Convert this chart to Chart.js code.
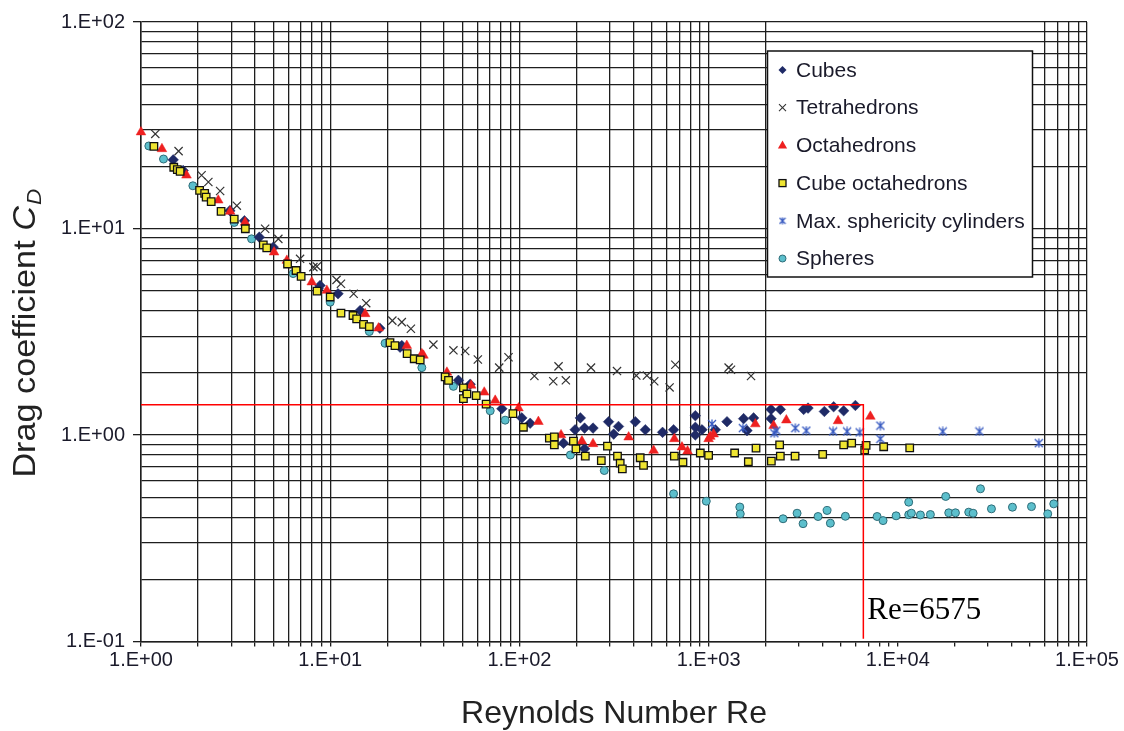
<!DOCTYPE html>
<html><head><meta charset="utf-8">
<script src="https://cdn.jsdelivr.net/npm/chart.js@4/dist/chart.umd.min.js"></script>
<style>html,body{margin:0;padding:0;background:#fff;}#wrap{position:relative;width:1124px;height:731px;}</style>
</head><body><div id="wrap"><canvas id="c" width="1124" height="731"></canvas></div>
<script>
// ---- data (Reynolds number, drag coefficient) ----
const cubesRe = [1.48,1.67,2.95,3.52,4.22,5.0,8.65,8.84,11.0,14.4,18.3,23.4,23.9,47.6,54.9,80.8,103,114,171,197,210,221,245,221,296,315,334,410,463,571,653,851,851,923,851,1085,1251,1531,1596,1729,2138,2394,2138,3180,3354,4092,4581,5175,5969];
const cubesCd = [21.5,19.1,12.2,10.9,9.08,8.12,5.11,5.30,4.83,4.01,3.29,2.66,2.71,1.84,1.76,1.34,1.21,1.14,0.913,1.06,1.21,1.08,1.08,0.857,1.16,1.01,1.10,1.16,1.06,1.03,1.06,1.24,1.09,1.06,1.0,1.06,1.16,1.20,1.05,1.21,1.33,1.33,1.20,1.33,1.35,1.30,1.37,1.31,1.39];
const tetraRe = [1.19,1.58,2.09,2.27,2.62,3.21,4.53,5.32,6.93,8.15,8.5,10.8,11.4,13.3,15.5,21.3,23.9,26.7,35.1,44.8,51.7,60.3,78.2,87.6,120,151,161,176,239,328,415,472,516,622,667,1276,1313,1676];
const tetraCd = [28.7,23.7,18.1,16.8,15.2,12.9,9.97,8.91,7.13,6.50,6.55,5.64,5.40,4.83,4.35,3.58,3.52,3.27,2.74,2.57,2.55,2.32,2.12,2.38,1.93,1.82,2.15,1.84,2.12,2.04,1.94,1.94,1.82,1.70,2.19,2.12,2.07,1.93];
const octaRe = [1.0,1.29,1.74,2.56,2.96,3.55,5.05,5.90,7.99,9.6,15.3,18.0,25.4,30.5,31.1,41.4,55.6,65.2,74.5,98.9,126,166,214,245,378,512,659,723,774,1000,1021,1063,1766,2206,2576,4834,7162];
const octaCd = [29.3,24.3,18.1,13.7,12.1,10.7,7.68,7.0,5.50,5.01,3.86,3.29,2.71,2.47,2.43,2.01,1.74,1.61,1.47,1.35,1.16,1.0,0.933,0.906,0.976,0.841,0.958,0.873,0.835,0.958,0.983,1.01,1.13,1.11,1.18,1.17,1.23];
const cuboctRe = [1.17,1.49,1.556,1.61,2.04,2.17,2.21,2.35,2.65,3.11,3.56,4.43,4.62,5.95,6.60,7.02,8.52,10.0,11.4,13.2,13.8,15.0,16.1,20.7,22.0,25.5,27.8,29.9,40.5,42.2,50.6,50.6,52.8,59.1,66.7,92.4,105,144,153,153,193,199,223,271,292,330,341,350,435,453,659,732,904,1000,1373,1622,1781,2146,2374,2394,2864,4008,5175,5705,6683,6800,8421,11560];
const cuboctCd = [25.0,19.8,19.3,18.9,15.3,14.8,14.2,13.5,12.1,11.1,9.97,8.34,8.05,6.73,6.26,5.86,4.97,4.66,3.89,3.79,3.65,3.43,3.35,2.80,2.71,2.48,2.34,2.31,1.91,1.84,1.69,1.50,1.58,1.55,1.41,1.27,1.09,0.965,0.98,0.896,0.933,0.857,0.79,0.752,0.883,0.79,0.73,0.686,0.776,0.712,0.79,0.738,0.818,0.796,0.818,0.742,0.863,0.747,0.896,0.79,0.79,0.805,0.896,0.913,0.848,0.89,0.877,0.867];
const cylRe = [1042,1517,2225,2280,2874,3285,4549,5395,6287,8091,8091,17280,27010,55590];
const cylCd = [1.13,1.08,1.02,1.05,1.08,1.05,1.04,1.04,1.03,1.11,0.958,1.04,1.04,0.913];
const sphRe = [1.10,1.315,1.88,3.11,3.84,6.37,10.0,16.1,19.5,30.5,44.8,70.1,84.1,186,281,653,972,1462,1470,2475,2935,3157,3789,4228,4401,5284,7774,8359,9795,11420,11420,11800,13170,14870,17920,18590,20170,23710,25010,27350,31260,40360,50880,62020,66730];
const sphCd = [25.1,21.7,16.1,10.7,8.91,6.05,4.40,3.17,2.78,2.12,1.72,1.31,1.18,0.80,0.673,0.519,0.478,0.448,0.415,0.393,0.418,0.372,0.403,0.431,0.374,0.404,0.403,0.385,0.406,0.473,0.411,0.418,0.41,0.412,0.504,0.42,0.42,0.423,0.418,0.549,0.439,0.447,0.45,0.415,0.464];

const seriesLabels = ['Cubes','Tetrahedrons','Octahedrons','Cube octahedrons','Max. sphericity cylinders','Spheres'];
const markRe = 6575, markCd = 1.4, markLow = 0.103;

// axis ticks / grid values
const xTickValues = [1,2,3,4,5,6,7,8,9,10,20,30,40,50,60,70,80,90,100,200,300,400,500,600,700,800,900,1000,2000,3000,4000,5000,6000,7000,8000,9000,10000,20000,30000,40000,50000,60000,70000,80000,90000,100000];
const xGridValues = [1,2,3,4,5,6,7,8,9,10,20,30,40,50,60,70,80,90,100,200,300,400,500,600,700,800,900,1000,2000,60000,70000,80000,90000,100000];
const yTickValues = [0.1,0.2,0.3,0.4,0.5,0.6,0.7,0.8,0.9,1,2,3,4,5,6,7,8,9,10,20,30,40,50,60,70,80,90,100];

// ---- helpers ----
const pts = (xs, ys) => xs.map((x, i) => ({x: x, y: ys[i]}));
const isPow10 = v => Math.abs(Math.log10(v) - Math.round(Math.log10(v))) < 1e-9;
const expLabel = v => { const e = Math.round(Math.log10(v)); return '1.E' + (e < 0 ? '-' : '+') + String(Math.abs(e)).padStart(2, '0'); };
const inList = (list, v) => list.some(g => Math.abs(g - v) / g < 1e-9);

function makeStar(color, size, lw) {
  const c = document.createElement('canvas'); c.width = size; c.height = size;
  const g = c.getContext('2d'); g.strokeStyle = color; g.lineWidth = lw; g.lineCap = 'butt';
  const m = 1, s = size - 1;
  g.beginPath();
  g.moveTo(m, m); g.lineTo(s, s); g.moveTo(s, m); g.lineTo(m, s);
  g.moveTo(size / 2, m - 0.5); g.lineTo(size / 2, s + 0.5);
  g.stroke();
  return c;
}
const starBig = makeStar('#3558c0', 10, 1.3);
const starSmall = makeStar('#3558c0', 8, 1.2);

const C = {
  cube: '#1f2a66', tetra: '#333333', octa: '#ee2020', cuboct: '#efe532', cyl: '#3558c0', sph: '#5cbfcc', sphB: '#2e6c78'
};

const datasets = [
  {label: 'mark', data: [{x: 1, y: markCd}, {x: markRe, y: markCd}, {x: markRe, y: markLow}], showLine: true, pointRadius: 0, borderColor: '#ff0000', borderWidth: 1.5, order: 0, clip: false},
  {label: seriesLabels[4], data: pts(cylRe, cylCd), pointStyle: starBig, pointRadius: 5, order: 1, clip: false},
  {label: seriesLabels[3], data: pts(cuboctRe, cuboctCd), pointStyle: 'rect', pointRadius: 5.3, backgroundColor: C.cuboct, borderColor: '#111', borderWidth: 1.3, order: 2, clip: false},
  {label: seriesLabels[2], data: pts(octaRe, octaCd), pointStyle: 'triangle', pointRadius: 5.6, backgroundColor: C.octa, borderColor: C.octa, borderWidth: 0.5, order: 3, clip: false},
  {label: seriesLabels[1], data: pts(tetraRe, tetraCd), pointStyle: 'crossRot', pointRadius: 5.8, borderColor: C.tetra, borderWidth: 1.2, order: 4, clip: false},
  {label: seriesLabels[0], data: pts(cubesRe, cubesCd), pointStyle: 'rectRot', pointRadius: 5.3, backgroundColor: C.cube, borderColor: C.cube, borderWidth: 0.5, order: 5, clip: false},
  {label: seriesLabels[5], data: pts(sphRe, sphCd), pointStyle: 'circle', pointRadius: 4, backgroundColor: C.sph, borderColor: C.sphB, borderWidth: 1, order: 6, clip: false}
];

function drawMarker(ctx, kind, x, y) {
  ctx.save();
  if (kind === 0) { // diamond
    ctx.fillStyle = C.cube; ctx.beginPath(); ctx.moveTo(x, y - 4); ctx.lineTo(x + 4, y); ctx.lineTo(x, y + 4); ctx.lineTo(x - 4, y); ctx.closePath(); ctx.fill();
  } else if (kind === 1) { // x
    ctx.strokeStyle = C.tetra; ctx.lineWidth = 1.1; ctx.beginPath(); ctx.moveTo(x - 3.5, y - 3.5); ctx.lineTo(x + 3.5, y + 3.5); ctx.moveTo(x + 3.5, y - 3.5); ctx.lineTo(x - 3.5, y + 3.5); ctx.stroke();
  } else if (kind === 2) { // triangle
    ctx.fillStyle = C.octa; ctx.beginPath(); ctx.moveTo(x, y - 5); ctx.lineTo(x + 4.6, y + 3.2); ctx.lineTo(x - 4.6, y + 3.2); ctx.closePath(); ctx.fill();
  } else if (kind === 3) { // square
    ctx.fillStyle = C.cuboct; ctx.strokeStyle = '#111'; ctx.lineWidth = 1.3; ctx.fillRect(x - 3.5, y - 3.5, 7, 7); ctx.strokeRect(x - 3.5, y - 3.5, 7, 7);
  } else if (kind === 4) {
    ctx.drawImage(starSmall, x - 4, y - 4);
  } else {
    ctx.fillStyle = C.sph; ctx.strokeStyle = C.sphB; ctx.lineWidth = 1; ctx.beginPath(); ctx.arc(x, y, 3.5, 0, Math.PI * 2); ctx.fill(); ctx.stroke();
  }
  ctx.restore();
}

const overlay = {
  id: 'overlay',
  afterDraw(chart) {
    const ctx = chart.ctx, xs = chart.scales.x, ys = chart.scales.y, ca = chart.chartArea;
    // annotation text
    ctx.save();
    ctx.fillStyle = '#000';
    ctx.font = '31px "Liberation Serif", "Times New Roman", serif';
    ctx.textBaseline = 'alphabetic'; ctx.textAlign = 'left';
    ctx.fillText('Re=' + markRe, xs.getPixelForValue(markRe) + 4, ys.getPixelForValue(0.128));
    ctx.restore();

    // axis titles
    ctx.save();
    ctx.fillStyle = '#222';
    ctx.font = '32px "Liberation Sans", Arial, sans-serif';
    ctx.textAlign = 'center'; ctx.textBaseline = 'alphabetic';
    ctx.fillText('Reynolds Number Re', (ca.left + ca.right) / 2, 723);
    ctx.restore();

    ctx.save();
    ctx.fillStyle = '#222';
    ctx.translate(35, (ca.top + ca.bottom) / 2 + 2);
    ctx.rotate(-Math.PI / 2);
    ctx.scale(1.07, 1);
    ctx.textBaseline = 'alphabetic'; ctx.textAlign = 'left';
    const fN = '32px "Liberation Sans", Arial, sans-serif';
    const fI = 'italic 32px "Liberation Sans", Arial, sans-serif';
    const fS = 'italic 21px "Liberation Sans", Arial, sans-serif';
    const t1 = 'Drag coefficient ', t2 = 'C', t3 = 'D';
    ctx.font = fN; const w1 = ctx.measureText(t1).width;
    ctx.font = fI; const w2 = ctx.measureText(t2).width;
    ctx.font = fS; const w3 = ctx.measureText(t3).width;
    let sx = -(w1 + w2 + w3) / 2;
    ctx.font = fN; ctx.fillText(t1, sx, 0); sx += w1;
    ctx.font = fI; ctx.fillText(t2, sx, 0); sx += w2 + 1;
    ctx.font = fS; ctx.fillText(t3, sx, 6);
    ctx.restore();

    // legend
    ctx.save();
    const lx = 767.5, ly = 51, lw = 265, lh = 226;
    ctx.fillStyle = '#fff'; ctx.fillRect(lx, ly, lw, lh);
    ctx.strokeStyle = '#111'; ctx.lineWidth = 1.5; ctx.strokeRect(lx, ly, lw, lh);
    ctx.font = '21px "Liberation Sans", Arial, sans-serif';
    ctx.textBaseline = 'middle'; ctx.textAlign = 'left'; ctx.fillStyle = '#1a1a2a';
    seriesLabels.forEach((lab, i) => {
      const y = 70 + i * 37.7;
      drawMarker(ctx, i, 782.5, y);
      ctx.fillStyle = '#1a1a2a';
      ctx.fillText(lab, 796, y + 1);
    });
    ctx.restore();
  }
};

const gridColor = '#1e1e1e';
new Chart(document.getElementById('c'), {
  type: 'scatter',
  data: {datasets: datasets},
  plugins: [overlay],
  options: {
    responsive: false, animation: false, devicePixelRatio: 1,
    layout: {padding: {left: 0, top: 22, right: 37, bottom: 0}},
    plugins: {legend: {display: false}, tooltip: {enabled: false}},
    elements: {point: {hoverRadius: 0}},
    scales: {
      x: {
        type: 'logarithmic', min: 1, max: 100000, position: 'bottom',
        afterBuildTicks: s => { s.ticks = xTickValues.map(v => ({value: v})); },
        afterFit: s => { s.height = 89.5; },
        grid: {
          color: c => (c.tick && inList(xGridValues, c.tick.value)) ? gridColor : 'rgba(0,0,0,0)',
          lineWidth: 1.3, tickColor: gridColor, tickWidth: 1.3, tickLength: 5, drawTicks: true
        },
        border: {display: true, color: gridColor, width: 1.5},
        ticks: {
          autoSkip: false, maxRotation: 0, minRotation: 0, padding: 2,
          color: '#1a1a2a', font: {family: '"Liberation Sans", Arial, sans-serif', size: 20},
          callback: v => isPow10(v) ? expLabel(v) : ''
        },
        title: {display: false}
      },
      y: {
        type: 'logarithmic', min: 0.1, max: 100, position: 'left',
        afterBuildTicks: s => { s.ticks = yTickValues.map(v => ({value: v})); },
        afterFit: s => { s.width = 141; },
        grid: {
          color: gridColor, lineWidth: 1.3,
          tickColor: c => (c.tick && isPow10(c.tick.value)) ? gridColor : 'rgba(0,0,0,0)',
          tickWidth: 1.3, tickLength: 8, drawTicks: true
        },
        border: {display: true, color: gridColor, width: 1.5},
        ticks: {
          autoSkip: false, padding: 8,
          color: '#1a1a2a', font: {family: '"Liberation Sans", Arial, sans-serif', size: 20},
          callback: v => isPow10(v) ? expLabel(v) : ''
        },
        title: {display: false}
      }
    }
  }
});
</script></body></html>
